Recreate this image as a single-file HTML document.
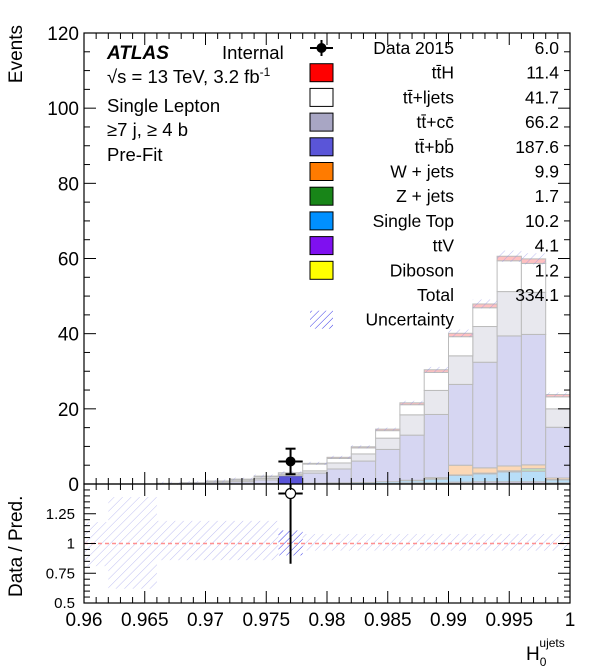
<!DOCTYPE html>
<html><head><meta charset="utf-8">
<style>
html,body{margin:0;padding:0;background:#fff;}
svg{display:block;font-family:"Liberation Sans",sans-serif;}
</style></head>
<body>
<svg id="chart" width="596" height="672" viewBox="0 0 596 672">
<defs>
<pattern id="hatch" width="6" height="6" patternUnits="userSpaceOnUse" patternTransform="rotate(45)">
<line x1="0" y1="0" x2="0" y2="6" stroke="#8a8ae8" stroke-width="1" opacity="0.55"/>
</pattern>
<pattern id="hatchS" width="5" height="5" patternUnits="userSpaceOnUse" patternTransform="rotate(45)">
<line x1="0" y1="0" x2="0" y2="5" stroke="#3a3ae8" stroke-width="1"/>
</pattern>
</defs>
<g id="main"></g>
<g id="ratio"></g>
<g id="axes"></g>
<g font-size="18.5">
<text x="107" y="59" font-weight="bold" font-style="italic" font-size="19">ATLAS</text>
<text x="222" y="59">Internal</text>
<text x="107" y="83">√s = 13 TeV, 3.2 fb<tspan dy="-7" font-size="12">-1</tspan></text>
<text x="107" y="112">Single Lepton</text>
<text x="107" y="136">≥7 j, ≥ 4 b</text>
<text x="107" y="161">Pre-Fit</text>
</g>
<g id="legend" font-size="17.5"></g>
<text x="0" y="0" transform="translate(22,25) rotate(-90)" text-anchor="end" font-size="19">Events</text>
<text x="0" y="0" transform="translate(22,597) rotate(-90)" text-anchor="start" font-size="19">Data / Pred.</text>
<text x="526" y="660" font-size="19">H<tspan dy="6" font-size="12">0</tspan><tspan dx="-7" dy="-19" font-size="12">ujets</tspan></text>
</svg>
<script>
const binEdgesMin = 0.96, binWidth = 0.002, nBins = 20;
const diboson   = [0,0,0,0,0,0,0,0,0,0,0,0,0,0.1,0.1,0.2,0.2,0.2,0.2,0.1];
const ttV       = [0,0,0,0,0,0,0,0,0,0,0,0,0.1,0.2,0.2,0.3,0.4,0.4,0.4,0.2];
const singleTop = [0,0,0,0,0,0,0,0.1,0,0.2,0.3,0.4,0.5,0.6,1.0,1.8,2.1,2.6,2.8,0.8];
const zjets     = [0,0,0,0,0,0,0,0,0,0,0,0,0,0,0.1,0.1,0.2,0.3,0.7,0.1];
const wjets     = [0,0,0,0,0,0,0,0,0,0,0,0,0,0.1,0.3,2.6,1.4,1.3,1.0,0.4];
const ttbb      = [0,0,0,0.1,0.2,0.4,0.6,1.0,2.2,2.7,3.7,5.7,8.6,12.0,16.8,21.5,28.1,34.6,34.7,13.5];
const ttcc      = [0,0,0,0.1,0.1,0.2,0.3,0.4,0.3,0.6,1.6,1.9,3.0,5.4,6.4,7.6,9.5,11.8,11.2,4.9];
const ttlight   = [0,0,0,0,0.1,0.2,0.3,0.4,0.4,1.8,1.2,1.6,2.0,2.7,4.8,5.1,5.0,8.2,7.7,3.2];
const ttH       = [0,0,0,0,0,0,0.1,0.2,0.1,0.2,0.3,0.3,0.4,0.5,0.7,0.9,1.0,1.2,1.2,0.6];
const dataBin = 8, dataVal = 6.0, dataErr = 3.4;
const ratioVal = 1.42, ratioLo = 0.83;
const ratioBandHi = [1.18,1.39,1.39,1.19,1.19,1.19,1.19,1.19,1.11,1.08,1.08,1.08,1.08,1.08,1.08,1.08,1.08,1.08,1.08,1.08];
const ratioBandLo = [0.81,0.62,0.62,0.86,0.86,0.86,0.86,0.86,0.90,0.94,0.94,0.94,0.94,0.94,0.94,0.94,0.94,0.94,0.94,0.94];
const yTicks = [0,20,40,60,80,100,120];
const xTicks = [0.96,0.965,0.97,0.975,0.98,0.985,0.99,0.995,1];
const xTickLabels = ["0.96","0.965","0.97","0.975","0.98","0.985","0.99","0.995","1"];
const rTicks = [0.5,0.75,1,1.25];
const rTickLabels = ["0.5","0.75","1","1.25"];
const legNames = ["Data 2015","tt̄H","tt̄+ljets","tt̄+cc̄","tt̄+bb̄","W + jets","Z + jets","Single Top","ttV","Diboson","Total","Uncertainty"];
const legVals = ["6.0","11.4","41.7","66.2","187.6","9.9","1.7","10.2","4.1","1.2","334.1",""];

const L=84,R=570,T=33,B=484,RT=484,RB=603;
const X = v => L + (v-0.96)/0.04*(R-L);
const Y = v => B - v/120*(B-T);
const RY = v => RB - (v-0.5)/1.0*(RB-RT);
const NS='http://www.w3.org/2000/svg';
function mk(tag, attrs, parent){const e=document.createElementNS(NS,tag);for(const k in attrs)e.setAttribute(k,attrs[k]);parent.appendChild(e);return e;}
const main=document.getElementById('main'), ratio=document.getElementById('ratio'), axes=document.getElementById('axes'), legend=document.getElementById('legend');

const layers=[
 {n:'diboson',d:diboson,c:'#fffab8'},
 {n:'ttv',d:ttV,c:'#d6c2f6'},
 {n:'single-top',d:singleTop,c:'#b8def8'},
 {n:'z-jets',d:zjets,c:'#bfe0bf'},
 {n:'w-jets',d:wjets,c:'#fcd8b6'},
 {n:'ttbb',d:ttbb,c:'#d6d6f2'},
 {n:'ttcc',d:ttcc,c:'#e8e8ee'},
 {n:'ttlight',d:ttlight,c:'#ffffff'},
 {n:'tth',d:ttH,c:'#ffc0c0'}];
const cum=new Array(nBins).fill(0);
for(const ly of layers){
 for(let i=0;i<nBins;i++){
  const lo=cum[i], hi=cum[i]+ly.d[i]; cum[i]=hi;
  if(ly.d[i]<=0) continue;
  const x0=X(binEdgesMin+i*binWidth), x1=X(binEdgesMin+(i+1)*binWidth);
  let col=ly.c, st='#bbbbbb';
  if(i===dataBin && ly.n==='ttbb'){col='#5a55d8';st='#222';}
  const r=mk('rect',{x:x0,y:Y(hi),width:x1-x0,height:Y(lo)-Y(hi),fill:col,stroke:st,'stroke-width':1},main);
  
  
 }
}
for(let i=0;i<nBins;i++){
 if(cum[i]<=0.05) continue;
 const x0=X(binEdgesMin+i*binWidth), x1=X(binEdgesMin+(i+1)*binWidth);
 const u=Math.max(0.4,cum[i]*0.025);
 const h=mk('rect',{x:x0,y:Y(cum[i]+u),width:x1-x0,height:Y(cum[i]-u)-Y(cum[i]+u),fill:'url(#hatch)'},main);
 
 
}
{const cx=X(binEdgesMin+(dataBin+0.5)*binWidth);
 const g=mk('g',{},main);
 
 
 mk('line',{x1:cx,x2:cx,y1:Y(dataVal+dataErr),y2:Y(dataVal-dataErr),stroke:'#000','stroke-width':2},g);
 mk('line',{x1:cx-5,x2:cx+5,y1:Y(dataVal+dataErr),y2:Y(dataVal+dataErr),stroke:'#000','stroke-width':2},g);
 mk('line',{x1:cx-5,x2:cx+5,y1:Y(dataVal-dataErr),y2:Y(dataVal-dataErr),stroke:'#000','stroke-width':2},g);
 mk('line',{x1:X(binEdgesMin+dataBin*binWidth),x2:X(binEdgesMin+(dataBin+1)*binWidth),y1:Y(dataVal),y2:Y(dataVal),stroke:'#000','stroke-width':2},g);
 mk('circle',{cx:cx,cy:Y(dataVal),r:5,fill:'#000'},g);}
for(let i=0;i<nBins;i++){
 const x0=X(binEdgesMin+i*binWidth), x1=X(binEdgesMin+(i+1)*binWidth);
 const r=mk('rect',{x:x0,y:RY(ratioBandHi[i]),width:x1-x0,height:RY(ratioBandLo[i])-RY(ratioBandHi[i]),fill:i===dataBin?'url(#hatchS)':'url(#hatch)'},ratio);
 
 
}
{const l=mk('line',{x1:L,x2:R,y1:RY(1),y2:RY(1),stroke:'#ff9090','stroke-width':1.5,'stroke-dasharray':'4,3'},ratio);
 
 
 const cx=X(binEdgesMin+(dataBin+0.5)*binWidth);
 const g=mk('g',{},ratio);
 
 
 mk('line',{x1:cx,x2:cx,y1:RT,y2:RY(ratioLo),stroke:'#000','stroke-width':2},g);
 mk('line',{x1:X(binEdgesMin+dataBin*binWidth),x2:X(binEdgesMin+(dataBin+1)*binWidth),y1:RY(ratioVal),y2:RY(ratioVal),stroke:'#000','stroke-width':2},g);
 mk('circle',{cx:cx,cy:RY(ratioVal),r:5,fill:'#fff',stroke:'#000','stroke-width':1.2},g);}
for(const [t,b,n] of [[T,B,'main-frame'],[RT,RB,'ratio-frame']]){
 const f=mk('rect',{x:L,y:t,width:R-L,height:b-t,fill:'none',stroke:'#000','stroke-width':1.2},axes);
 
 
}
for(let v=0;v<=120;v+=5){
 const major=v%20===0, len=major?12:6;
 mk('line',{x1:L,x2:L+len,y1:Y(v),y2:Y(v),stroke:'#000'},axes);
 mk('line',{x1:R,x2:R-len,y1:Y(v),y2:Y(v),stroke:'#000'},axes);
}
yTicks.forEach(v=>{const t=mk('text',{x:79,y:Y(v)+7,'text-anchor':'end','font-size':19},axes);t.textContent=String(v);
 });
for(let v=0.5;v<=1.5001;v+=0.05){
 const major=Math.abs(v*4-Math.round(v*4))<1e-6, len=major?12:6;
 mk('line',{x1:L,x2:L+len,y1:RY(v),y2:RY(v),stroke:'#000'},axes);
 mk('line',{x1:R,x2:R-len,y1:RY(v),y2:RY(v),stroke:'#000'},axes);
}
rTicks.forEach((v,i)=>{const t=mk('text',{x:75,y:RY(v)+5,'text-anchor':'end','font-size':15},axes);t.textContent=rTickLabels[i];
 });
for(let k=0;k<=40;k++){
 const v=0.96+k*0.001, major=k%5===0;
 for(const [a,d] of [[T,1],[B,-1],[RT,1],[RB,-1]]){
  const len=major?12:6;
  mk('line',{x1:X(v),x2:X(v),y1:a,y2:a+d*len,stroke:'#000'},axes);
 }
}
xTicks.forEach((v,i)=>{const t=mk('text',{x:X(v),y:626,'text-anchor':'middle','font-size':19},axes);t.textContent=xTickLabels[i];
 });
const legCols=['data','#ff0000','#ffffff','#a8a6c4','#5a55d8','#ff7b00','#188518','#0090ff','#7f10f0','#ffff00','none','hatch'];
legNames.forEach((nm,i)=>{
 const y=48+i*24.7;
 const g=mk('g',{},legend);
 
 
 const c=legCols[i];
 if(c==='data'){mk('line',{x1:310,x2:333,y1:y,y2:y,stroke:'#000','stroke-width':2},g);mk('line',{x1:321.5,x2:321.5,y1:y-8,y2:y+8,stroke:'#000','stroke-width':2},g);mk('circle',{cx:321.5,cy:y,r:5,fill:'#000'},g);}
 else if(c==='hatch'){mk('rect',{x:310,y:y-9,width:23,height:18,fill:'url(#hatchS)'},g);}
 else if(c!=='none'){mk('rect',{x:310,y:y-9,width:23,height:18,fill:c,stroke:'#000','stroke-width':1},g);}
 const t=mk('text',{x:454,y:y+6,'text-anchor':'end'},g);t.textContent=nm;
 if(legVals[i]){const v=mk('text',{x:559,y:y+6,'text-anchor':'end'},g);v.textContent=legVals[i];}
});
</script>
</body></html>
